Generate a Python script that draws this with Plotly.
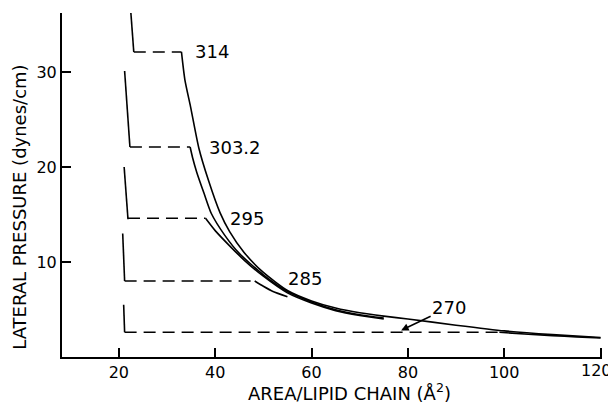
import plotly.graph_objects as go

# Isotherm data (area per lipid chain in Å², lateral pressure in dynes/cm)
# Condensed (solid, near-vertical) segments
c314_x = [22.5, 23.1]
c314_y = [36.2, 32.1]
c303_x = [21.2, 22.3]
c303_y = [30.1, 22.1]
c295_x = [21.1, 21.9]
c295_y = [20.0, 14.5]
c285_x = [20.8, 21.2]
c285_y = [13.0, 8.0]
c270_x = [21.0, 21.2]
c270_y = [5.5, 2.6]

# Transition plateaus (dashed)
p314_x = [23.1, 33.0]
p314_y = [32.1, 32.1]
p303_x = [22.3, 34.8]
p303_y = [22.1, 22.1]
p295_x = [21.9, 38.0]
p295_y = [14.6, 14.6]
p285_x = [21.2, 48.2]
p285_y = [8.0, 8.0]
p270_x = [21.2, 99.0]
p270_y = [2.6, 2.6]

# Expanded (solid) branches
e314_x = [33.0, 33.7, 34.9, 36.6, 38.6, 41.0, 43.0, 46.0, 50.0, 55.0, 60.0, 65.0, 70.0, 75.0, 80.0, 90.0, 100.0, 110.0, 120.0]
e314_y = [32.1, 29.2, 26.3, 22.0, 18.6, 15.2, 13.2, 11.0, 8.9, 7.0, 5.9, 5.15, 4.65, 4.3, 4.0, 3.35, 2.75, 2.35, 2.05]
e303_x = [34.8, 35.3, 36.2, 37.7, 39.2, 42.0, 45.0, 50.0, 55.0, 60.0, 65.0, 70.0, 75.0]
e303_y = [22.1, 21.0, 19.4, 17.2, 15.1, 12.8, 10.9, 8.65, 6.9, 5.8, 4.98, 4.45, 4.1]
e295_x = [38.0, 40.0, 43.0, 46.0, 50.0, 55.0, 60.0, 65.0, 70.0, 75.0]
e295_y = [14.6, 13.3, 11.7, 10.2, 8.5, 6.75, 5.68, 4.88, 4.37, 4.0]
e285_x = [48.2, 50.0, 52.0, 55.0]
e285_y = [8.0, 7.45, 6.9, 6.35]
e270_x = [99.0, 105.0, 110.0, 115.0, 120.0]
e270_y = [2.6, 2.4, 2.25, 2.12, 2.0]

labels = ["314", "303.2", "295", "285"]
label_x = [35.3, 38.2, 42.6, 54.8]
label_y = [32.1, 22.0, 14.6, 8.3]

xticks = [20, 40, 60, 80, 100, 120]
xticklabels = ["20", "40", "60", "80", "100", "120"]
yticks = [10, 20, 30]

FONT = "DejaVu Sans"
fig = go.Figure()

solid = [(c314_x, c314_y), (c303_x, c303_y), (c295_x, c295_y), (c285_x, c285_y), (c270_x, c270_y),
         (e314_x, e314_y), (e303_x, e303_y), (e295_x, e295_y), (e285_x, e285_y), (e270_x, e270_y)]
dashed = [(p314_x, p314_y), (p303_x, p303_y), (p295_x, p295_y), (p285_x, p285_y), (p270_x, p270_y)]

for xs, ys in solid:
    fig.add_trace(go.Scatter(x=xs, y=ys, mode="lines", line=dict(color="black", width=1.6, shape="spline", smoothing=0.6),
                             showlegend=False, hoverinfo="skip"))
for xs, ys in dashed:
    fig.add_trace(go.Scatter(x=xs, y=ys, mode="lines", line=dict(color="black", width=1.6, dash="12px,7px"),
                             showlegend=False, hoverinfo="skip"))

for t, x, y in zip(labels, label_x, label_y):
    fig.add_annotation(x=x, y=y, text=t, showarrow=False, xanchor="left", yanchor="middle",
                       font=dict(family=FONT, size=18, color="black"))

fig.add_annotation(x=78.6, y=2.8, text="270", showarrow=True, ax=48, ay=-23,
                   arrowhead=2, arrowsize=1, arrowwidth=1.5, arrowcolor="black",
                   font=dict(family=FONT, size=18, color="black"))

# Last x tick label drawn separately so it stays inside the page edge
fig.add_annotation(x=xticks[-1], xref="x", yref="paper", y=-0.038, text=xticklabels[-1], showarrow=False,
                   xanchor="center", yanchor="middle", xshift=-4,
                   font=dict(family=FONT, size=16, color="black"))

# Axis titles
fig.add_annotation(xref="paper", yref="paper", x=0.533, y=-0.102, text="AREA/LIPID CHAIN (Å<sup>2</sup>)",
                   showarrow=False, xanchor="center", yanchor="middle",
                   font=dict(family=FONT, size=18, color="black"))
fig.add_annotation(xref="paper", yref="paper", x=-0.080, y=0.436, text="LATERAL PRESSURE (dynes/cm)",
                   showarrow=False, xanchor="center", yanchor="middle", textangle=-90,
                   font=dict(family=FONT, size=18, color="black"))

# The page body has an 8px default margin, so the figure is sized/offset to compensate.
fig.update_layout(
    width=608, height=397,
    margin=dict(l=54, r=14, t=5, b=48),
    plot_bgcolor="white", paper_bgcolor="white",
    font=dict(family=FONT, size=16, color="black"),
    xaxis=dict(range=[8.2, 120.3], tickvals=xticks, ticktext=xticklabels[:-1] + [""],
               ticks="inside", ticklen=9, tickwidth=1.5, tickcolor="black", automargin=False,
               showline=True, linecolor="black", linewidth=2, showgrid=False, zeroline=False,
               tickfont=dict(size=16)),
    yaxis=dict(range=[0, 36.2], tickvals=yticks, ticktext=[str(v) for v in yticks],
               ticks="inside", ticklen=9, tickwidth=1.5, tickcolor="black", automargin=False,
               showline=True, linecolor="black", linewidth=2, showgrid=False, zeroline=False,
               tickfont=dict(size=16)),
)

fig.write_html("out.html", post_script="document.body.style.overflow='hidden';")
